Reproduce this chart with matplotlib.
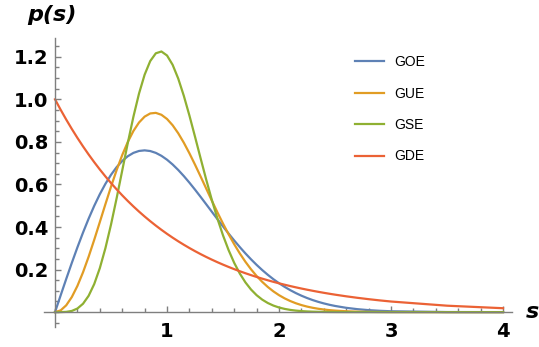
import matplotlib
matplotlib.use("Agg")
import matplotlib.pyplot as plt
from matplotlib.ticker import MultipleLocator, FixedLocator

# ---- values --------------------------------------------------------
s = [0.0, 0.05, 0.1, 0.15, 0.2, 0.25, 0.3, 0.35, 0.4, 0.45,
     0.5, 0.55, 0.6, 0.65, 0.7, 0.75, 0.8, 0.85, 0.9, 0.95,
     1.0, 1.05, 1.1, 1.15, 1.2, 1.25, 1.3, 1.35, 1.4, 1.45,
     1.5, 1.55, 1.6, 1.65, 1.7, 1.75, 1.8, 1.85, 1.9, 1.95,
     2.0, 2.05, 2.1, 2.15, 2.2, 2.25, 2.3, 2.35, 2.4, 2.45,
     2.5, 2.6, 2.7, 2.8, 2.9, 3.0, 3.5, 4.0]

goe = [0.0, 0.07839, 0.15585, 0.23149, 0.30444, 0.37389, 0.43908, 0.49935, 0.55412, 0.60292,
       0.64537, 0.68124, 0.71038, 0.73269, 0.74834, 0.75738, 0.76017, 0.75700, 0.74832, 0.73452,
       0.71618, 0.69383, 0.66803, 0.63932, 0.60830, 0.57553, 0.54154, 0.50676, 0.47175, 0.43686,
       0.40250, 0.36895, 0.33651, 0.30547, 0.27590, 0.24806, 0.22195, 0.19765, 0.17523, 0.15458,
       0.13576, 0.11869, 0.10332, 0.08951, 0.07721, 0.06630, 0.05669, 0.04825, 0.04090, 0.03450,
       0.02900, 0.02020, 0.01384, 0.00932, 0.00617, 0.00401, 0.00036, 0.00002]

gue = [0.0, 0.00808, 0.03201, 0.07089, 0.12325, 0.18714, 0.26021, 0.33982, 0.42315, 0.50734,
       0.58959, 0.66727, 0.73805, 0.79993, 0.85136, 0.89111, 0.91863, 0.93363, 0.93636, 0.92738,
       0.90762, 0.87819, 0.84055, 0.79608, 0.74635, 0.69289, 0.63714, 0.58045, 0.52396, 0.46880,
       0.41582, 0.36561, 0.31884, 0.27566, 0.23646, 0.20114, 0.16975, 0.14214, 0.11805, 0.09734,
       0.07961, 0.06465, 0.05209, 0.04166, 0.03307, 0.02605, 0.02038, 0.01582, 0.01219, 0.00933,
       0.00709, 0.00401, 0.00220, 0.00117, 0.00061, 0.00031, 0.00001, 0.0]

gse = [0.0, 0.00007, 0.00113, 0.00558, 0.01695, 0.03933, 0.07662, 0.13189, 0.20669, 0.30071,
       0.41160, 0.53511, 0.66539, 0.79558, 0.91849, 1.02721, 1.11577, 1.17976, 1.21637, 1.22478,
       1.20597, 1.16228, 1.09762, 1.01641, 0.92370, 0.82414, 0.72242, 0.62246, 0.52742, 0.43953,
       0.36049, 0.29103, 0.23121, 0.18113, 0.13968, 0.10616, 0.07951, 0.05869, 0.04272, 0.03065,
       0.02169, 0.01514, 0.01042, 0.00708, 0.00474, 0.00314, 0.00204, 0.00132, 0.00084, 0.00053,
       0.00032, 0.00011, 0.00004, 0.00001, 0.0, 0.0, 0.0, 0.0]

gde = [1.0, 0.95123, 0.90484, 0.86071, 0.81873, 0.77880, 0.74082, 0.70469, 0.67032, 0.63763,
       0.60653, 0.57695, 0.54881, 0.52205, 0.49659, 0.47237, 0.44933, 0.42741, 0.40657, 0.38674,
       0.36788, 0.34994, 0.33287, 0.31664, 0.30119, 0.28650, 0.27253, 0.25924, 0.24660, 0.23457,
       0.22313, 0.21225, 0.20190, 0.19205, 0.18268, 0.17377, 0.16530, 0.15724, 0.14957, 0.14227,
       0.13534, 0.12873, 0.12246, 0.11648, 0.11080, 0.10540, 0.10026, 0.09537, 0.09072, 0.08629,
       0.08208, 0.07427, 0.06721, 0.06081, 0.05502, 0.04979, 0.03020, 0.01832]

labels = ["GOE", "GUE", "GSE", "GDE"]
colors = ["#5E81B5", "#E19C24", "#8FB032", "#EB6235"]

x_ticks = [1, 2, 3, 4]
y_ticks = [0.2, 0.4, 0.6, 0.8, 1.0, 1.2]

# ---- figure ----------------------------------------------------------
fig = plt.figure(figsize=(5.39, 3.47), dpi=100)
ax = fig.add_axes([0.0813, 0.0576, 0.8686, 0.834])

for ys, lab, col in zip([goe, gue, gse, gde], labels, colors):
    ax.plot(s, ys, color=col, lw=1.6, label=lab, solid_joinstyle="round")

ax.set_xlim(-0.1, 4.08)
ax.set_ylim(-0.07, 1.29)

axis_col = "#7f7f7f"
for side in ("top", "right"):
    ax.spines[side].set_visible(False)
ax.spines["left"].set_position(("data", 0))
ax.spines["bottom"].set_position(("data", 0))
for side in ("left", "bottom"):
    ax.spines[side].set_color(axis_col)
    ax.spines[side].set_linewidth(1.0)

ax.xaxis.set_major_locator(FixedLocator(x_ticks))
ax.xaxis.set_minor_locator(MultipleLocator(0.2))
ax.yaxis.set_major_locator(FixedLocator(y_ticks))
ax.yaxis.set_minor_locator(MultipleLocator(0.05))
ax.set_xticklabels([f"{t:d}" for t in x_ticks])
ax.set_yticklabels([f"{t:.1f}" for t in y_ticks])

ax.tick_params(which="both", direction="in", color=axis_col, width=1.0)
ax.tick_params(which="major", length=4.5)
ax.tick_params(which="minor", length=2.8)
ax.tick_params(axis="x", which="major", pad=7)
ax.tick_params(axis="y", which="major", pad=5)
for lbl in ax.get_xticklabels() + ax.get_yticklabels():
    lbl.set_fontweight("bold")
    lbl.set_fontsize(14)
    lbl.set_family("DejaVu Sans")

fig.text(27 / 539, 1 - 15 / 347, "p(s)", fontsize=16, fontweight="bold",
         style="italic", family="DejaVu Sans", va="center", ha="left")
fig.text(526 / 539, 1 - 312 / 347, "s", fontsize=16, fontweight="bold",
         style="italic", family="DejaVu Sans", va="center", ha="left")

ax.legend(loc="upper left", bbox_to_anchor=(355 / 539, 1 - 55 / 347),
          bbox_transform=fig.transFigure, frameon=False,
          prop={"family": "Liberation Sans", "size": 10},
          handlelength=2.1, handletextpad=0.7, labelspacing=1.26,
          borderpad=0.0, borderaxespad=0.0)

fig.savefig("out.png", dpi=100)
